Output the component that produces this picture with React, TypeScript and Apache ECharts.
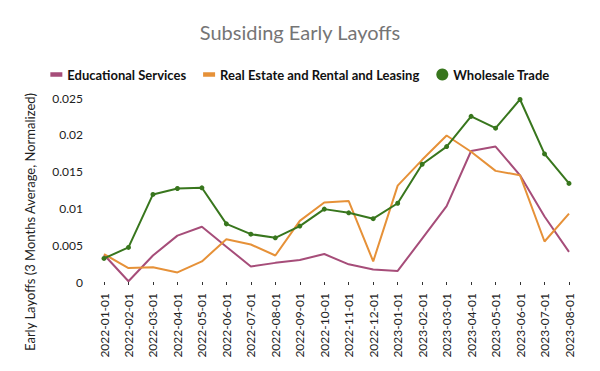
import React, { useEffect, useRef } from "react";
import * as echarts from "echarts";

const categories = [
  "2022-01-01", "2022-02-01", "2022-03-01", "2022-04-01", "2022-05-01",
  "2022-06-01", "2022-07-01", "2022-08-01", "2022-09-01", "2022-10-01",
  "2022-11-01", "2022-12-01", "2023-01-01", "2023-02-01", "2023-03-01",
  "2023-04-01", "2023-05-01", "2023-06-01", "2023-07-01", "2023-08-01",
];

const educationalServices = [
  0.0037, 0.0001, 0.0036, 0.0063, 0.0075, 0.0048, 0.0021, 0.0026, 0.003, 0.0038,
  0.0024, 0.0017, 0.0015, 0.0059, 0.0103, 0.0178, 0.0184, 0.0145, 0.0089, 0.0041,
];

const realEstate = [
  0.0038, 0.0019, 0.002, 0.0013, 0.0028, 0.0058, 0.0051, 0.0036, 0.0083, 0.0108,
  0.011, 0.0028, 0.0131, 0.0166, 0.0199, 0.0177, 0.0151, 0.0145, 0.0055, 0.0093,
];

const wholesaleTrade = [
  0.0032, 0.0047, 0.0119, 0.0127, 0.0128, 0.0079, 0.0065, 0.006, 0.0076, 0.0099,
  0.0094, 0.0086, 0.0107, 0.016, 0.0184, 0.0225, 0.0209, 0.0248, 0.0174, 0.0134,
];

const yTicks = [0, 0.005, 0.01, 0.015, 0.02, 0.025];

const FONT = "Lato";

export default function App() {
  const ref = useRef<HTMLDivElement>(null);

  useEffect(() => {
    if (!ref.current) return;
    const chart = echarts.init(ref.current, undefined, { renderer: "svg" });
    chart.setOption({
      animation: false,
      backgroundColor: "#ffffff",
      title: {
        text: "Subsiding Early Layoffs",
        left: "center",
        top: 17,
        textStyle: {
          fontFamily: FONT,
          fontSize: 20,
          fontWeight: "normal",
          color: "#757575",
        },
      },
      legend: {
        top: 63,
        left: "center",
        itemWidth: 12,
        itemHeight: 12,
        itemGap: 17,
        textStyle: {
          fontFamily: FONT,
          fontSize: 13,
          fontWeight: "bold",
          color: "#111111",
        },
        data: [
          { name: "Educational Services", icon: "path://M0,0H12V4.5H0Z" },
          { name: "Real Estate and Rental and Leasing", icon: "path://M0,0H12V4.5H0Z" },
          { name: "Wholesale Trade", icon: "circle" },
        ],
      },
      grid: {
        left: 104,
        right: 31,
        top: 98,
        bottom: 89,
        containLabel: false,
      },
      xAxis: {
        type: "category",
        data: categories,
        boundaryGap: false,
        offset: 6,
        axisLine: { show: false },
        axisTick: { show: true, length: 3, lineStyle: { color: "#333" } },
        axisLabel: {
          rotate: 90,
          interval: 0,
          margin: 5,
          fontFamily: FONT,
          fontSize: 12,
          color: "#222222",
        },
        splitLine: { show: false },
      },
      yAxis: {
        type: "value",
        min: 0,
        max: 0.025,
        interval: 0.005,
        axisLine: { show: false },
        axisTick: { show: false },
        splitLine: { show: false },
        axisLabel: {
          margin: 21,
          fontFamily: FONT,
          fontSize: 12,
          color: "#222222",
          formatter: (v: number) => {
            const idx = yTicks.findIndex((t) => Math.abs(t - v) < 1e-9);
            return idx >= 0 ? String(yTicks[idx]) : String(v);
          },
        },
      },
      graphic: [
        {
          type: "text",
          x: 30,
          y: 222,
          rotation: Math.PI / 2,
          style: {
            text: "Early Layoffs (3 Months Average, Normalized)",
            fontFamily: FONT,
            fontSize: 13,
            fill: "#222222",
            align: "center",
            verticalAlign: "middle",
          },
        },
      ],
      series: [
        {
          name: "Educational Services",
          type: "line",
          data: educationalServices,
          showSymbol: false,
          symbol: "none",
          lineStyle: { color: "#a64d79", width: 2 },
          itemStyle: { color: "#a64d79" },
        },
        {
          name: "Real Estate and Rental and Leasing",
          type: "line",
          data: realEstate,
          showSymbol: false,
          symbol: "none",
          lineStyle: { color: "#e69138", width: 2 },
          itemStyle: { color: "#e69138" },
        },
        {
          name: "Wholesale Trade",
          type: "line",
          data: wholesaleTrade,
          symbol: "circle",
          symbolSize: 5,
          showSymbol: true,
          lineStyle: { color: "#38761d", width: 2 },
          itemStyle: { color: "#38761d" },
        },
      ],
    });
    return () => chart.dispose();
  }, []);

  return (
    <div
      ref={ref}
      style={{ position: "fixed", left: 0, top: 0, width: 600, height: 371 }}
    />
  );
}
